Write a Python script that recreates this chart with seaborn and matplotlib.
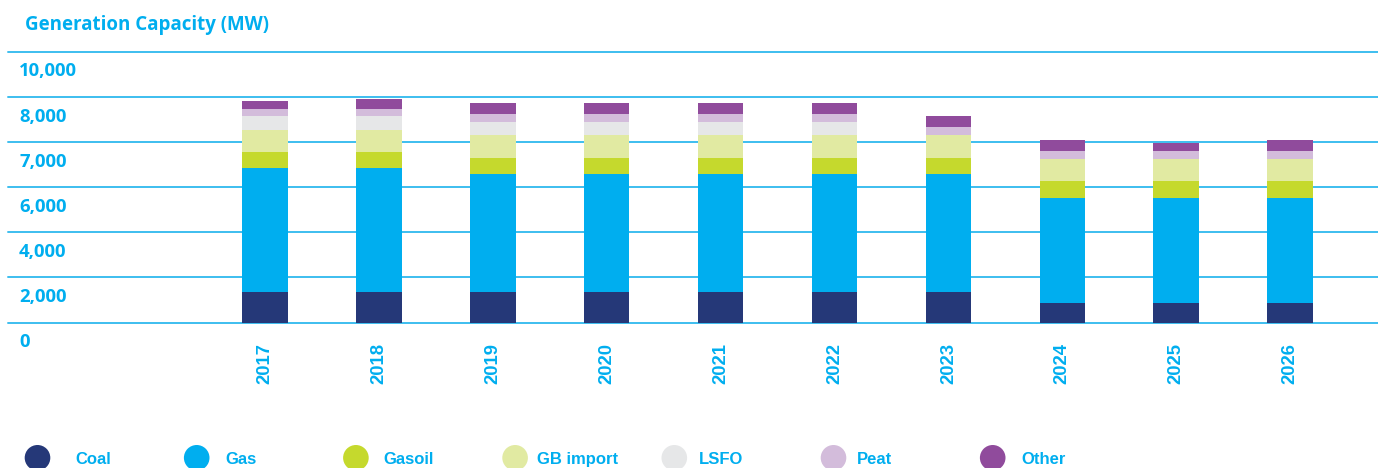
import matplotlib
matplotlib.use("Agg")
import matplotlib.pyplot as plt
import pandas as pd
import seaborn as sns

# values (MW)
years = ["2017", "2018", "2019", "2020", "2021", "2022", "2023", "2024", "2025", "2026"]
fuels = ["Coal", "Gas", "Gasoil", "GB import", "LSFO", "Peat", "Other"]
coal = [1340, 1340, 1340, 1340, 1340, 1340, 1340, 865, 865, 865]
gas = [5495, 5495, 5230, 5230, 5230, 5230, 5230, 4640, 4640, 4640]
gasoil = [740, 740, 740, 740, 740, 740, 745, 755, 755, 755]
gb_import = [980, 980, 995, 995, 995, 995, 990, 980, 980, 980]
lsfo = [590, 590, 575, 575, 575, 575, 0, 0, 0, 0]
peat = [325, 325, 370, 370, 370, 370, 375, 355, 355, 355]
other = [355, 460, 475, 475, 475, 475, 490, 505, 385, 505]

ytick_values = [0, 2000, 4000, 6000, 8000, 10000, 12000]
ytick_labels = ["0", "2,000", "4,000", "6,000", "7,000", "8,000", "10,000"]

colors = {
    "Coal": "#253878",
    "Gas": "#00AEEF",
    "Gasoil": "#C5D92D",
    "GB import": "#E1EAA2",
    "LSFO": "#E6E7E8",
    "Peat": "#D3BCDB",
    "Other": "#904B9C",
}
# gap (px) between legend dot centre and its label
legend_text_gap = [38, 29, 27, 22, 25, 23, 29]
BLUE = "#00AEEF"
GRID = "#3DBEEF"

sns.set_style("white")
plt.rcParams["font.family"] = ["Open Sans", "DejaVu Sans"]
narrow = ["Liberation Sans", "DejaVu Sans"]

W, H = 1378, 468
fig = plt.figure(figsize=(W / 100, H / 100), dpi=100)


def px_rect(x0, y0, x1, y1):
    return [x0 / W, 1 - y1 / H, (x1 - x0) / W, (y1 - y0) / H]


ax = fig.add_axes(px_rect(8, 52, 1378, 322.5))

df = pd.DataFrame({
    "year": years, "Coal": coal, "Gas": gas, "Gasoil": gasoil,
    "GB import": gb_import, "LSFO": lsfo, "Peat": peat, "Other": other,
})
long = df.melt(id_vars="year", var_name="fuel", value_name="mw")
long["fuel"] = pd.Categorical(long["fuel"], fuels, ordered=True)
long = long.sort_values(["year", "fuel"])
long["top"] = long.groupby("year", observed=True)["mw"].cumsum()

# stacked bars: draw cumulative totals from the top layer down
for fuel in reversed(fuels):
    sub = long[long["fuel"] == fuel]
    sns.barplot(data=sub, x="year", y="top", order=years, color=colors[fuel],
                width=0.4, linewidth=0, saturation=1, ax=ax, zorder=2)

for v in ytick_values:
    ax.axhline(v, color=GRID, lw=1.4, zorder=1, clip_on=False)

ax.set_ylim(0, 12000)
ax.set_xlim(-257 / 113.9, 1113 / 113.9)
ax.set_xlabel("")
ax.set_ylabel("")
sns.despine(ax=ax, left=True, bottom=True)
ax.tick_params(axis="y", left=False, labelleft=False)
ax.set_xticks(range(len(years)))
ax.set_xticklabels(years, rotation=90, fontsize=13.3, fontweight="bold",
                   color=BLUE, family=narrow)
ax.tick_params(axis="x", length=0, pad=14.8)

for v, lab in zip(ytick_values, ytick_labels):
    ax.annotate(lab, xy=(0, v), xycoords=("axes fraction", "data"),
                xytext=(11, -24.5), textcoords="offset pixels",
                ha="left", va="baseline", fontsize=13.3, fontweight="bold",
                color=BLUE, annotation_clip=False)

fig.text(25 / W, 1 - 30 / H, "Generation Capacity (MW)", fontsize=13.5,
         fontweight="bold", color=BLUE, va="baseline")

# legend row with evenly spaced dots
ax_leg = fig.add_axes(px_rect(0, 447.8, 1378, 467.8))
leg_df = pd.DataFrame({"fuel": fuels, "pos": range(len(fuels)), "y": 0})
sns.scatterplot(data=leg_df, x="pos", y="y", hue="fuel", palette=colors, s=340,
                linewidth=0, legend=False, ax=ax_leg, clip_on=False)
ax_leg.set_xlim(-37.5 / 159.2, (1378 - 37.5) / 159.2)
ax_leg.set_ylim(-1, 1)
ax_leg.axis("off")
for i, f in enumerate(fuels):
    ax_leg.annotate(f, xy=(i, 0), xytext=(legend_text_gap[i], -6.2),
                    textcoords="offset pixels", ha="left", va="baseline",
                    fontsize=12, fontweight="bold", color=BLUE, family=narrow,
                    annotation_clip=False)

fig.savefig("out.png", dpi=100, facecolor="white")
